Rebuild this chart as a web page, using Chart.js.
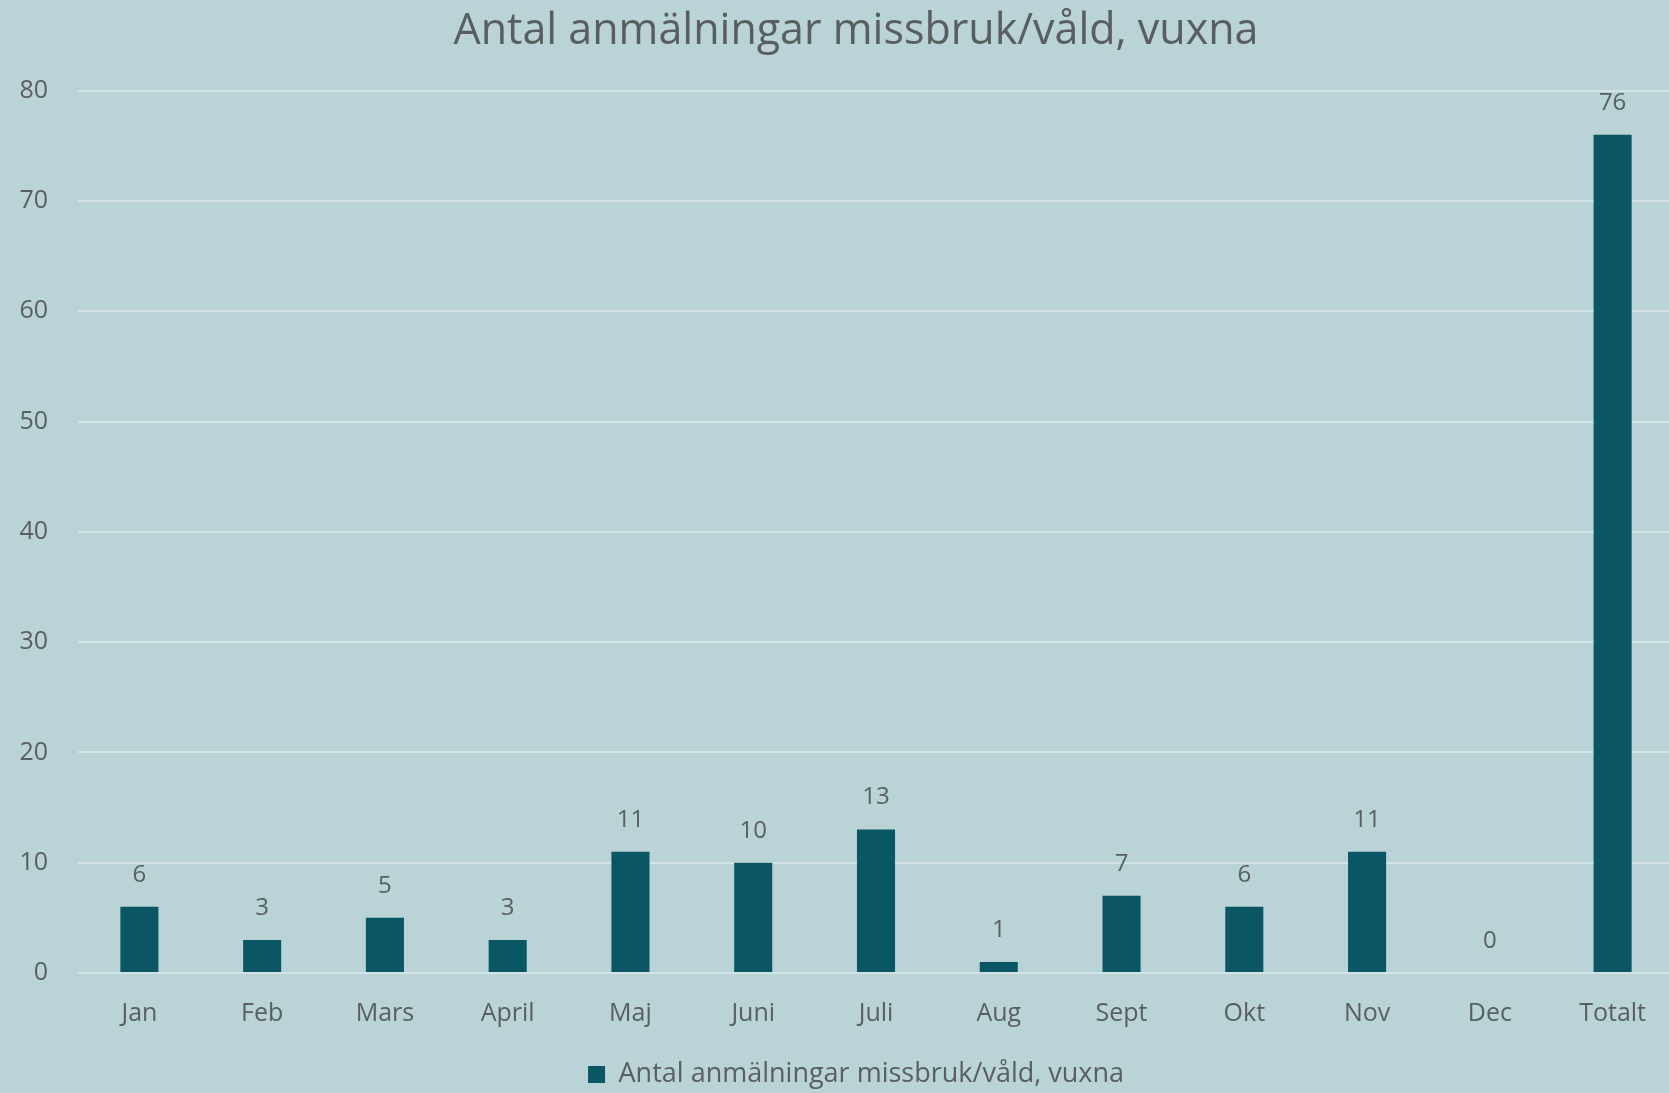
<!DOCTYPE html>
<html>
<head>
<meta charset="utf-8">
<script src="https://cdn.jsdelivr.net/npm/chart.js@4.4.0/dist/chart.umd.min.js"></script>
<style>
  html, body { margin: 0; padding: 0; background: #b9d3d7; overflow: hidden; }
  #wrap { width: 1712px; height: 1093px; position: relative; }
</style>
</head>
<body>
<div id="wrap"><canvas id="chart"></canvas></div>
<script>
// --- Data ---
const months = ['Jan', 'Feb', 'Mars', 'April', 'Maj', 'Juni', 'Juli', 'Aug', 'Sept', 'Okt', 'Nov', 'Dec', 'Totalt'];
const counts = [6, 3, 5, 3, 11, 10, 13, 1, 7, 6, 11, 0, 76];
const yTicks = [0, 10, 20, 30, 40, 50, 60, 70, 80];
const seriesName = 'Antal anmälningar missbruk/våld, vuxna';

const textColor = '#595f60';
const barColor = '#0b5664';
const fontFamily = '"Open Sans", Lato, sans-serif';

// value labels above each bar
const valueLabels = {
    id: 'valueLabels',
    afterDatasetsDraw(chart) {
        const ctx = chart.ctx;
        const meta = chart.getDatasetMeta(0);
        ctx.save();
        ctx.fillStyle = textColor;
        ctx.font = '24px ' + fontFamily;
        ctx.textAlign = 'center';
        ctx.textBaseline = 'bottom';
        meta.data.forEach((bar, i) => {
            ctx.fillText(String(counts[i]), bar.x, bar.y - 20);
        });
        ctx.restore();
    }
};

new Chart(document.getElementById('chart'), {
    type: 'bar',
    data: {
        labels: months,
        datasets: [{
            label: seriesName,
            data: counts,
            backgroundColor: barColor,
            borderWidth: 0,
            barPercentage: 0.31,
            categoryPercentage: 1
        }]
    },
    options: {
        responsive: true,
        maintainAspectRatio: false,
        animation: false,
        layout: { padding: { left: 0, right: 0, top: 0, bottom: -5 } },
        plugins: {
            title: {
                display: true,
                text: seriesName,
                color: textColor,
                font: { family: fontFamily, size: 43, weight: 'normal' },
                padding: { top: 6, bottom: 33 }
            },
            legend: {
                position: 'bottom',
                labels: {
                    color: textColor,
                    font: { family: fontFamily, size: 27 },
                    boxWidth: 17,
                    boxHeight: 17,
                    padding: 14
                }
            },
            tooltip: { enabled: false }
        },
        scales: {
            x: {
                grid: { display: false },
                border: { display: false },
                ticks: {
                    color: textColor,
                    font: { family: fontFamily, size: 25 },
                    padding: 18,
                    maxRotation: 0
                }
            },
            y: {
                min: 0,
                max: 80,
                afterBuildTicks: (scale) => { scale.ticks = yTicks.map(v => ({ value: v })); },
                afterFit: (scale) => { scale.width = 78; },
                grid: { color: '#d3e4e6', lineWidth: 2, drawTicks: false },
                border: { display: false },
                ticks: {
                    color: textColor,
                    font: { family: fontFamily, size: 25 },
                    padding: 30
                }
            },
            // empty right-hand gutter (the original picture is cropped on the right)
            yRight: {
                position: 'right',
                min: 0,
                max: 80,
                afterFit: (scale) => { scale.width = 38; },
                grid: { display: false },
                border: { display: false },
                ticks: { display: false }
            }
        }
    },
    plugins: [valueLabels]
});
</script>
</body>
</html>
